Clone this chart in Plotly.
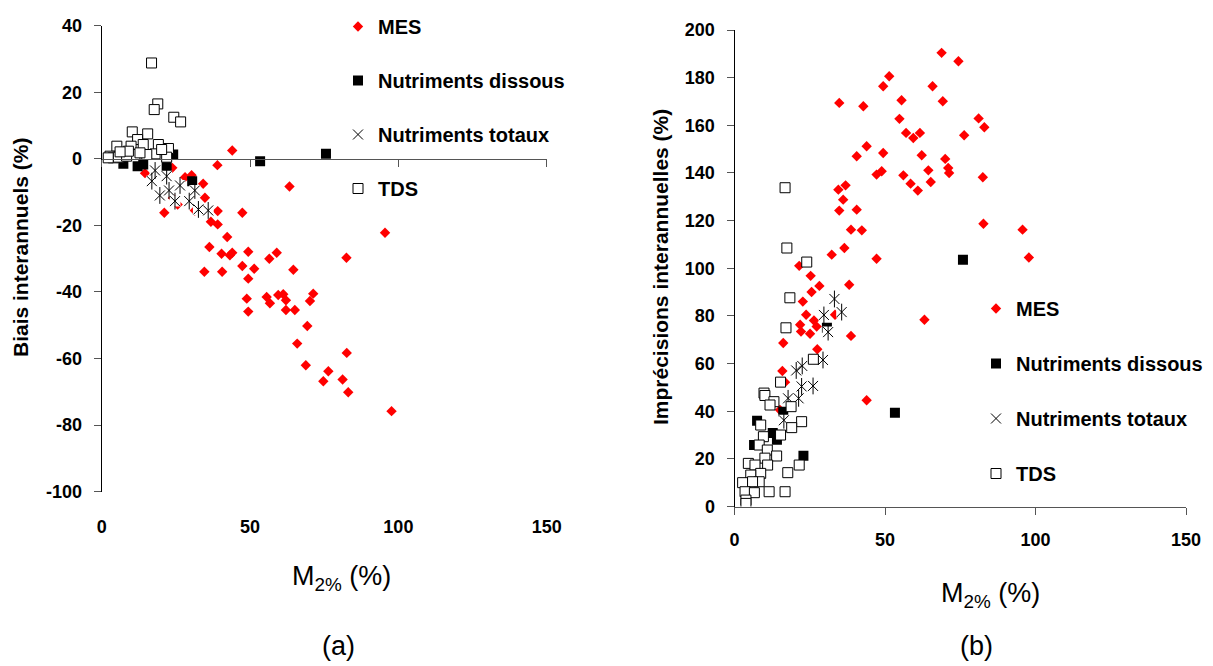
import plotly.graph_objects as go

# ---------------- data: panel (a) Biais interannuels ----------------
a_mes_x = [44.0, 39.0, 63.3, 21.1, 47.4, 34.8, 34.2, 28.1, 30.3, 23.8, 25.6, 39.1, 36.8, 39.1, 42.3,
           36.3, 40.4, 43.2, 44.0, 49.4, 59.0, 56.5, 47.4, 51.4, 34.6, 40.6, 49.4, 64.6, 48.9, 49.4,
           55.6, 56.7, 59.5, 61.2, 62.1, 62.1, 65.1, 71.3, 70.2, 69.3, 65.9, 82.5, 95.5, 82.6, 68.8,
           76.4, 74.7, 81.2, 83.1, 97.7, 14.6, 31.4, 24.0]
a_mes_y = [2.5, -1.9, -8.3, -16.2, -16.2, -11.7, -7.5, -5.5, -4.9, -2.7, -13.7, -15.7, -18.9, -19.7, -23.5,
           -26.5, -28.5, -29.0, -28.2, -27.9, -28.2, -30.0, -32.2, -33.0, -33.9, -33.9, -36.0, -33.3, -42.0, -45.9,
           -41.5, -43.4, -40.9, -40.7, -42.5, -45.4, -45.4, -40.5, -42.7, -50.2, -55.5, -29.7, -22.2, -58.3, -62.0,
           -63.8, -66.8, -66.3, -70.1, -75.8, -4.3, -15.5, -11.8]

a_dis_x = [53.4, 75.6, 21.9, 14.0, 24.1, 7.3, 12.1, 30.5]
a_dis_y = [-0.7, 1.5, -2.2, -1.7, 1.3, -1.5, -2.2, -6.7]

a_tot_x = [18.0, 21.9, 16.9, 26.4, 31.4, 22.7, 19.6, 29.5, 24.7, 35.9, 32.6]
a_tot_y = [-3.5, -5.2, -6.7, -8.0, -9.5, -9.5, -11.0, -12.7, -12.7, -15.5, -15.2]

a_tds_x = [16.8, 18.9, 17.7, 24.3, 26.6, 10.3, 15.5, 12.1, 5.1, 19.1, 14.0, 9.9, 22.5, 18.0,
           11.2, 7.3, 2.8, 3.9, 5.6, 8.4, 21.9, 15.2, 9.0, 12.9, 20.2, 6.2, 2.2]
a_tds_y = [28.8, 16.5, 14.8, 12.5, 11.1, 8.1, 7.5, 5.8, 3.8, 4.3, 4.3, 3.8, 3.1, 1.5,
           1.3, 1.8, 0.8, 0.3, 0.5, 0.8, 0.5, 1.3, 2.3, 1.8, 2.8, 2.1, 0.3]

# ---------------- data: panel (b) Imprécisions interannuelles ----------------
b_mes_x = [68.8, 74.4, 51.4, 49.4, 65.8, 34.8, 42.8, 55.5, 69.2, 54.8, 81.1, 83.0, 57.0, 61.6, 59.4,
           76.3, 43.9, 40.6, 49.4, 62.2, 70.0, 71.0, 71.3, 47.2, 48.9, 56.1, 64.4, 82.5, 58.5, 65.2,
           60.9, 34.5, 36.9, 36.1, 34.8, 40.6, 38.7, 42.3, 82.7, 95.7, 32.3, 36.5, 47.2, 97.8,
           25.3, 28.2, 25.6, 38.1, 22.7, 23.8, 26.4, 21.8, 25.1, 22.1, 27.3, 33.4, 38.7, 63.1, 27.5,
           43.9, 15.9, 16.8, 15.1, 16.2, 21.5]
b_mes_y = [190.4, 186.9, 180.6, 176.4, 176.4, 169.4, 168.0, 170.5, 170.1, 162.7, 162.9, 159.2, 156.8, 156.8, 154.7,
           155.8, 151.2, 147.0, 148.4, 147.4, 145.9, 142.1, 140.0, 139.3, 140.7, 139.0, 141.1, 138.2, 135.5, 136.2,
           132.6, 133.0, 134.8, 128.8, 124.2, 124.6, 116.2, 115.9, 118.7, 116.2, 105.7, 108.5, 104.0, 104.5,
           96.8, 92.6, 90.0, 93.1, 86.0, 80.5, 78.1, 76.3, 72.5, 73.4, 75.5, 80.5, 71.6, 78.4, 66.0,
           44.6, 56.9, 52.2, 40.5, 68.6, 101.0]

b_dis_x = [7.5, 12.7, 14.1, 6.5, 22.9, 16.2, 75.9, 53.3, 30.7]
b_dis_y = [36.0, 30.8, 28.0, 25.8, 21.3, 39.8, 103.6, 39.3, 75.0]

b_tot_x = [33.2, 35.6, 29.7, 31.1, 29.4, 22.5, 26.1, 22.3, 20.5, 17.8, 21.3, 16.4]
b_tot_y = [87.1, 81.6, 80.4, 73.2, 61.5, 59.0, 50.6, 50.4, 57.1, 45.4, 45.4, 36.2]

b_tds_x = [26.2, 15.3, 9.8, 10.1, 13.1, 11.8, 18.8, 22.3, 19.0, 8.7, 15.3, 9.6, 8.2, 10.9, 14.0,
           10.1, 4.6, 6.8, 11.0, 21.5, 8.7, 17.7, 5.4, 2.7, 8.2, 6.0, 3.5, 6.6, 11.5, 16.8,
           3.8, 3.8, 24.0, 16.8, 17.4, 18.4, 17.1]
b_tds_y = [61.8, 52.2, 47.6, 46.6, 44.0, 42.6, 41.9, 35.6, 33.1, 34.2, 30.0, 29.3, 25.8, 23.7, 21.2,
           20.3, 18.1, 17.4, 17.4, 17.4, 13.9, 14.2, 13.2, 10.0, 10.4, 10.4, 6.2, 5.8, 6.2, 6.2,
           2.7, 1.3, 102.6, 133.8, 108.5, 87.6, 75.0]

series_names = ["MES", "Nutriments dissous", "Nutriments totaux", "TDS"]
x_ticks = [0, 50, 100, 150]
a_y_ticks = [40, 20, 0, -20, -40, -60, -80, -100]
a_y_ticktext = ["40", "20", "0", "-20", "-40", "-60", "-80", "-100"]
b_y_ticks = [0, 20, 40, 60, 80, 100, 120, 140, 160, 180, 200]

FONT = "Liberation Sans, Arial, sans-serif"
OFF = 8                      # default page margin of the html body
W, H = 1213 - OFF, 666 - OFF


def px(v):                   # screen x pixel -> paper fraction
    return (v - OFF) / W


def py(v):                   # screen y pixel -> paper fraction
    return 1 - (v - OFF) / H


fig = go.Figure()


def add_panel(xa, ya, leg, pre, mes, dis, tot, tds):
    fig.add_trace(go.Scatter(x=mes[0], y=mes[1], mode="markers", name=series_names[0],
                             legend=leg, legendgroup=pre + "mes", xaxis=xa, yaxis=ya,
                             marker=dict(symbol="diamond", size=8, color="#FF0000", line=dict(width=0))))
    fig.add_trace(go.Scatter(x=dis[0], y=dis[1], mode="markers", name=series_names[1],
                             legend=leg, legendgroup=pre + "dis", xaxis=xa, yaxis=ya,
                             marker=dict(symbol="square", size=10, color="#000000", line=dict(width=0))))
    # white background behind asterisks
    fig.add_trace(go.Scatter(x=tot[0], y=tot[1], mode="markers", showlegend=False, hoverinfo="skip",
                             legend=leg, legendgroup=pre + "tot", xaxis=xa, yaxis=ya,
                             marker=dict(symbol="square", size=11, color="#FFFFFF", line=dict(width=0))))
    fig.add_trace(go.Scatter(x=tot[0], y=tot[1], mode="markers", name=series_names[2],
                             legend=leg, legendgroup=pre + "tot", xaxis=xa, yaxis=ya,
                             marker=dict(symbol="x-thin-open", size=10, color="#000000",
                                         line=dict(width=1, color="#000000"))))
    fig.add_trace(go.Scatter(x=tot[0], y=tot[1], mode="markers", showlegend=False, hoverinfo="skip",
                             legend=leg, legendgroup=pre + "tot", xaxis=xa, yaxis=ya,
                             marker=dict(symbol="line-ns-open", size=12, color="#000000",
                                         line=dict(width=1, color="#000000"))))
    fig.add_trace(go.Scatter(x=tds[0], y=tds[1], mode="markers", name=series_names[3],
                             legend=leg, legendgroup=pre + "tds", xaxis=xa, yaxis=ya,
                             marker=dict(symbol="square", size=10, color="#FFFFFF",
                                         line=dict(width=1, color="#000000"))))


add_panel("x", "y", "legend", "a", (a_mes_x, a_mes_y), (a_dis_x, a_dis_y), (a_tot_x, a_tot_y), (a_tds_x, a_tds_y))
add_panel("x2", "y2", "legend2", "b", (b_mes_x, b_mes_y), (b_dis_x, b_dis_y), (b_tot_x, b_tot_y), (b_tds_x, b_tds_y))

# invisible trace so the zero-line axis (x3) of panel (a) is drawn
fig.add_trace(go.Scatter(x=a_tds_x, y=a_tds_y, mode="markers", showlegend=False, hoverinfo="skip",
                         xaxis="x3", yaxis="y", marker=dict(opacity=0)))

tickfont = dict(family=FONT, size=18, color="#000000", weight="bold")

# screen-pixel geometry of the two plot areas
aL, aR, aT, aB = 101.7, 546.7, 25.7, 491.7
bL, bR, bT, bB = 734.5, 1186.0, 30.0, 506.5
zero_px = aT + (aB - aT) * 40 / 140

fig.update_layout(
    width=W, height=H, autosize=False,
    margin=dict(l=0, r=0, t=0, b=0, autoexpand=False),
    paper_bgcolor="white", plot_bgcolor="white",
    font=dict(family=FONT, color="#000000"),
    xaxis=dict(domain=[px(aL), px(aR)], anchor="y", range=[0, 150], tickvals=x_ticks,
               showline=False, ticks="", showgrid=False, zeroline=False, automargin=False,
               tickfont=tickfont, ticklabelstandoff=22),
    xaxis3=dict(overlaying="x", anchor="free", position=py(zero_px), range=[0, 150],
                tickvals=x_ticks, showticklabels=False, showline=True, linecolor="#555555",
                linewidth=1, ticks="outside", ticklen=7, tickcolor="#555555", automargin=False,
                showgrid=False, zeroline=False),
    yaxis=dict(domain=[py(aB), py(aT)], anchor="x", range=[-100, 40],
               tickvals=a_y_ticks, ticktext=a_y_ticktext, automargin=False,
               showline=True, linecolor="#000000", linewidth=1, ticks="outside", ticklen=7,
               tickcolor="#555555", showgrid=False, zeroline=False, tickfont=tickfont,
               ticklabelstandoff=8),
    xaxis2=dict(domain=[px(bL), px(bR)], anchor="y2", range=[0, 150], tickvals=x_ticks,
                showline=True, linecolor="#555555", linewidth=1, ticks="outside", ticklen=7,
                tickcolor="#555555", showgrid=False, zeroline=False, tickfont=tickfont,
                automargin=False, ticklabelstandoff=10),
    yaxis2=dict(domain=[py(bB), py(bT)], anchor="x2", range=[0, 200], tickvals=b_y_ticks,
                showline=True, linecolor="#000000", linewidth=1, ticks="outside", ticklen=7,
                tickcolor="#555555", showgrid=False, zeroline=False, tickfont=tickfont,
                automargin=False, ticklabelstandoff=8),
    legend=dict(x=px(338), y=py(7), xanchor="left", yanchor="top",
                bgcolor="rgba(0,0,0,0)", borderwidth=0, tracegroupgap=25,
                font=dict(family=FONT, size=20, weight="bold", color="#000000")),
    legend2=dict(x=px(976), y=py(289), xanchor="left", yanchor="top",
                 bgcolor="rgba(0,0,0,0)", borderwidth=0, tracegroupgap=26,
                 font=dict(family=FONT, size=20, weight="bold", color="#000000")),
    showlegend=True,
)

ann = [
    dict(text="Biais interannuels (%)", x=px(20), y=py(248), textangle=-90,
         font=dict(family=FONT, size=21, weight="bold")),
    dict(text="Imprécisions interannuelles (%)", x=px(660), y=py(267), textangle=-90,
         font=dict(family=FONT, size=21, weight="bold")),
    dict(text="M<sub>2%</sub> (%)", x=px(341), y=py(578), font=dict(family=FONT, size=27)),
    dict(text="(a)", x=px(338), y=py(646), font=dict(family=FONT, size=27)),
    dict(text="M<sub>2%</sub> (%)", x=px(990), y=py(595), font=dict(family=FONT, size=27)),
    dict(text="(b)", x=px(976), y=py(646), font=dict(family=FONT, size=27)),
]
for a in ann:
    a.update(xref="paper", yref="paper", showarrow=False, xanchor="center", yanchor="middle")
fig.update_layout(annotations=ann)

fig.write_html("out.html")
